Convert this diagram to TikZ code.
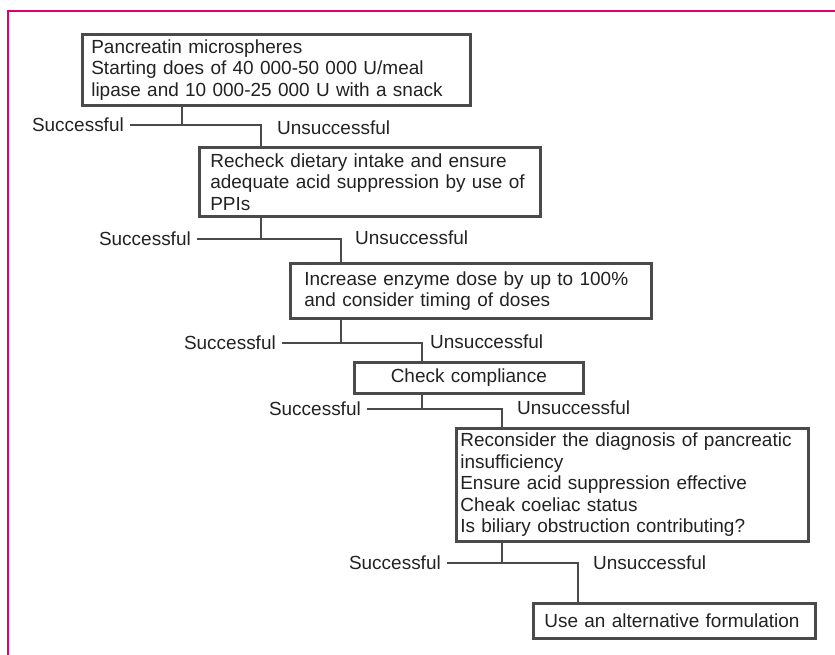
\documentclass[tikz,border=0pt]{standalone}
\usepackage{fontspec}
\setmainfont{Liberation Sans}
\usepackage{xcolor}
\usepackage{tikz}
\definecolor{FCPink}{HTML}{E2006E}
\definecolor{FCLine}{HTML}{4A4A4A}
\definecolor{FCText}{HTML}{222222}
\newcommand{\fcfont}{\fontsize{10.8}{12.2}\selectfont}
\tikzset{
  fcbox/.style={draw=FCLine,line width=1.5pt,fill=white,align=left,inner ysep=0pt,
    anchor=north west,font=\fcfont,text=FCText},
  fclink/.style={draw=FCLine,line width=1.5pt},
  fclabel/.style={font=\fcfont,text=FCText},
}

\begin{document}
\begin{tikzpicture}[x=1cm,y=1cm]
\path[use as bounding box] (0,0) rectangle (16.70,13.10);
\draw[FCPink,line width=1.1pt] (0.16,0) -- (0.16,12.88) -- (16.70,12.88);

\node[fcbox,inner xsep=.18cm,text width=7.40cm,minimum height=1.42cm] (start) at (1.62,12.44)
  {Pancreatin microspheres\\Starting does of 40~000-50~000 U/meal\\lipase and 10~000-25~000 U with a snack};
\node[fcbox,inner xsep=.22cm,text width=6.38cm,minimum height=1.38cm] (recheck) at (3.96,10.18)
  {Recheck dietary intake and ensure\\adequate acid suppression by use of\\PPIs};
\node[fcbox,inner xsep=.28cm,text width=6.66cm,minimum height=1.10cm] (increase) at (5.78,7.86)
  {Increase enzyme dose by up to 100\%\\and consider timing of doses};
\node[fcbox,align=center,inner xsep=.14cm,text width=4.30cm,minimum height=.62cm] (comply) at (7.06,5.88)
  {Check compliance};
\node[fcbox,inner xsep=.08cm,text width=6.88cm,minimum height=2.26cm] (rethink) at (9.10,4.56)
  {Reconsider the diagnosis of pancreatic\\insufficiency\\Ensure acid suppression effective\\Cheak coeliac status\\Is biliary obstruction contributing?};
\node[fcbox,inner xsep=.22cm,text width=5.20cm,minimum height=.70cm] (switch) at (10.64,1.06)
  {Use an alternative formulation};

\coordinate (j1) at (3.64,10.60); \coordinate (k1) at (5.22,10.60);
\coordinate (j2) at (5.22,8.32);  \coordinate (k2) at (6.82,8.32);
\coordinate (j3) at (6.82,6.24);  \coordinate (k3) at (8.44,6.24);
\coordinate (j4) at (8.44,4.92);  \coordinate (k4) at (10.04,4.92);
\coordinate (j5) at (10.04,1.84); \coordinate (k5) at (11.56,1.84);

\node[fclabel,anchor=east] (s1) at (2.60,10.60) {Successful};
\node[fclabel,anchor=west] (u1) at (5.42,10.54) {Unsuccessful};
\node[fclabel,anchor=east] (s2) at (3.94,8.32) {Successful};
\node[fclabel,anchor=west] (u2) at (6.98,8.34) {Unsuccessful};
\node[fclabel,anchor=east] (s3) at (5.64,6.24) {Successful};
\node[fclabel,anchor=west] (u3) at (8.48,6.26) {Unsuccessful};
\node[fclabel,anchor=east] (s4) at (7.34,4.92) {Successful};
\node[fclabel,anchor=west] (u4) at (10.22,4.94) {Unsuccessful};
\node[fclabel,anchor=east] (s5) at (8.94,1.84) {Successful};
\node[fclabel,anchor=west] (u5) at (11.74,1.84) {Unsuccessful};

\draw[fclink] (start.south -| j1) -- (j1);
\draw[fclink] (s1.east) -- (k1) -- (recheck.north -| k1);
\draw[fclink] (recheck.south -| j2) -- (j2);
\draw[fclink] (s2.east) -- (k2) -- (increase.north -| k2);
\draw[fclink] (increase.south -| j3) -- (j3);
\draw[fclink] (s3.east) -- (k3) -- (comply.north -| k3);
\draw[fclink] (comply.south -| j4) -- (j4);
\draw[fclink] (s4.east) -- (k4) -- (rethink.north -| k4);
\draw[fclink] (rethink.south -| j5) -- (j5);
\draw[fclink] (s5.east) -- (k5) -- (switch.north -| k5);
\end{tikzpicture}
\end{document}
